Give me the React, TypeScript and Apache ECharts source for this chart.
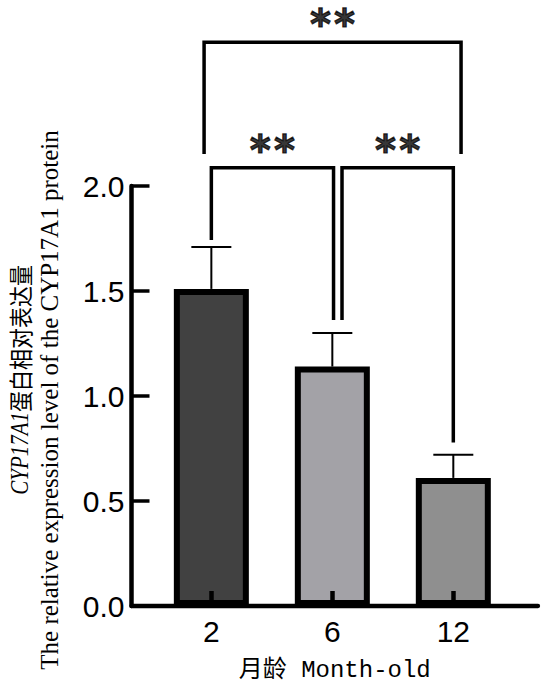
import { useEffect, useRef } from 'react';
import * as echarts from 'echarts';

// Categories (months) and their positions on the x scale
const categories = ['2', '6', '12'];
const positions = [1, 2, 3];
// Bar means and SD (upper error)
const means = [1.51, 1.14, 0.61];
const errors = [0.2, 0.16, 0.11];
const barColors = ['#414141', '#a3a2a7', '#8f8f8f'];

// Significance brackets (data units)
const bracketX1 = [1.0, 2.08, 0.94];
const bracketX2 = [2.01, 3.0, 3.064];
const bracketTop = [2.087, 2.087, 2.684];
const bracketLeg1 = [1.743, 1.362, 2.152];
const bracketLeg2 = [1.362, 0.778, 2.152];
const bracketLabels = ['**', '**', '**'];

const X_MIN = 0.34;
const X_MAX = 3.7;
const Y_MAX_OVERLAY = (2 * 606) / 420;

export default function App() {
  const ref = useRef<HTMLDivElement>(null);
  useEffect(() => {
    const chart = echarts.init(ref.current!, null, { renderer: 'svg' });
    const sans = '"Liberation Sans", Arial, sans-serif';
    const option: any = {
      animation: false,
      grid: [
        { left: 131.5, right: 11, top: 186, bottom: 90 },
        { left: 131.5, right: 11, top: 0, bottom: 90 },
      ],
      xAxis: [
        {
          type: 'value',
          gridIndex: 0,
          min: X_MIN,
          max: X_MAX,
          z: 5,
          axisLine: { show: true, onZero: false, lineStyle: { color: '#000', width: 4.3 } },
          axisTick: {
            show: true,
            inside: true,
            length: 15,
            customValues: positions,
            lineStyle: { color: '#000', width: 4.5 },
          },
          axisLabel: {
            customValues: positions,
            formatter: (v: number) => categories[positions.indexOf(v)] ?? '',
            margin: 10,
            fontSize: 30,
            fontFamily: sans,
            color: '#000',
          },
          splitLine: { show: false },
          name: '月龄 Month-old',
          nameLocation: 'middle',
          nameGap: 52,
          nameTextStyle: {
            fontSize: 24,
            fontFamily: '"Liberation Mono", "Noto Sans CJK SC", monospace',
            color: '#000',
          },
        },
        { type: 'value', gridIndex: 1, min: X_MIN, max: X_MAX, show: false },
      ],
      yAxis: [
        {
          type: 'value',
          gridIndex: 0,
          min: 0,
          max: 2,
          interval: 0.5,
          axisLine: { show: true, lineStyle: { color: '#000', width: 4.5 } },
          axisTick: { show: true, inside: true, length: 18, lineStyle: { color: '#000', width: 3.5 } },
          axisLabel: {
            formatter: (v: number) => v.toFixed(1),
            margin: 7,
            fontSize: 30,
            fontFamily: sans,
            color: '#000',
          },
          splitLine: { show: false },
        },
        { type: 'value', gridIndex: 1, min: 0, max: Y_MAX_OVERLAY, show: false },
      ],
      graphic: [
        {
          type: 'group',
          x: 20,
          y: 380,
          rotation: Math.PI / 2,
          scaleY: 1.15,
          children: [
            {
              type: 'text',
              x: -32,
              y: 0,
              style: {
                text: 'CYP17A1',
                font: 'italic 21px "Liberation Serif", serif',
                align: 'right',
                verticalAlign: 'middle',
                fill: '#000',
              },
            },
            {
              type: 'text',
              x: -32,
              y: 0,
              style: {
                text: '蛋白相对表达量',
                font: '21px "Noto Sans CJK SC", sans-serif',
                align: 'left',
                verticalAlign: 'middle',
                fill: '#000',
              },
            },
          ],
        },
        {
          type: 'text',
          x: 49,
          y: 400,
          rotation: Math.PI / 2,
          style: {
            text: 'The relative expression level of the CYP17A1 protein',
            font: '25px "Liberation Serif", serif',
            align: 'center',
            verticalAlign: 'middle',
            fill: '#000',
          },
        },
      ],
      series: [
        {
          type: 'bar',
          xAxisIndex: 0,
          yAxisIndex: 0,
          barWidth: 75,
          z: 2,
          data: positions.map((p, i) => ({
            value: [p, means[i]],
            itemStyle: { color: barColors[i], borderColor: '#000', borderWidth: 6 },
          })),
        },
        {
          type: 'custom',
          xAxisIndex: 0,
          yAxisIndex: 0,
          z: 1,
          encode: { x: 0, y: 1 },
          data: positions.map((p, i) => [p, means[i], errors[i]]),
          renderItem: (_params: any, api: any) => {
            const x = api.value(0);
            const m = api.value(1);
            const e = api.value(2);
            const base = api.coord([x, m]);
            const top = api.coord([x, m + e]);
            const st = { stroke: '#000', lineWidth: 2 };
            return {
              type: 'group',
              children: [
                { type: 'line', shape: { x1: base[0], y1: base[1], x2: top[0], y2: top[1] }, style: st },
                { type: 'line', shape: { x1: top[0] - 20, y1: top[1], x2: top[0] + 20, y2: top[1] }, style: st },
              ],
            };
          },
        },
        ...bracketX1.map((x1, i) => ({
          type: 'line',
          xAxisIndex: 1,
          yAxisIndex: 1,
          symbol: 'none',
          silent: true,
          z: 3,
          lineStyle: { color: '#000', width: 3.5, cap: 'butt', join: 'miter' },
          data: [
            [x1, bracketLeg1[i]],
            [x1, bracketTop[i]],
            [bracketX2[i], bracketTop[i]],
            [bracketX2[i], bracketLeg2[i]],
          ],
        })),
        {
          type: 'scatter',
          xAxisIndex: 1,
          yAxisIndex: 1,
          symbolSize: 0,
          silent: true,
          z: 4,
          data: bracketX1.map((x1, i) => [(x1 + bracketX2[i]) / 2, bracketTop[i]]),
          label: {
            show: true,
            position: 'top',
            distance: 3,
            lineHeight: 30,
            formatter: (p: any) => bracketLabels[p.dataIndex],
            fontFamily: '"DejaVu Sans Mono", monospace',
            fontWeight: 'bold',
            fontSize: 40,
            color: '#000',
            textBorderColor: '#000',
            textBorderWidth: 1.2,
          },
        },
      ],
    };
    chart.setOption(option);
    return () => chart.dispose();
  }, []);
  return (
    <div
      ref={ref}
      style={{ position: 'fixed', left: 0, top: 0, width: 549, height: 696, background: '#fff' }}
    />
  );
}
